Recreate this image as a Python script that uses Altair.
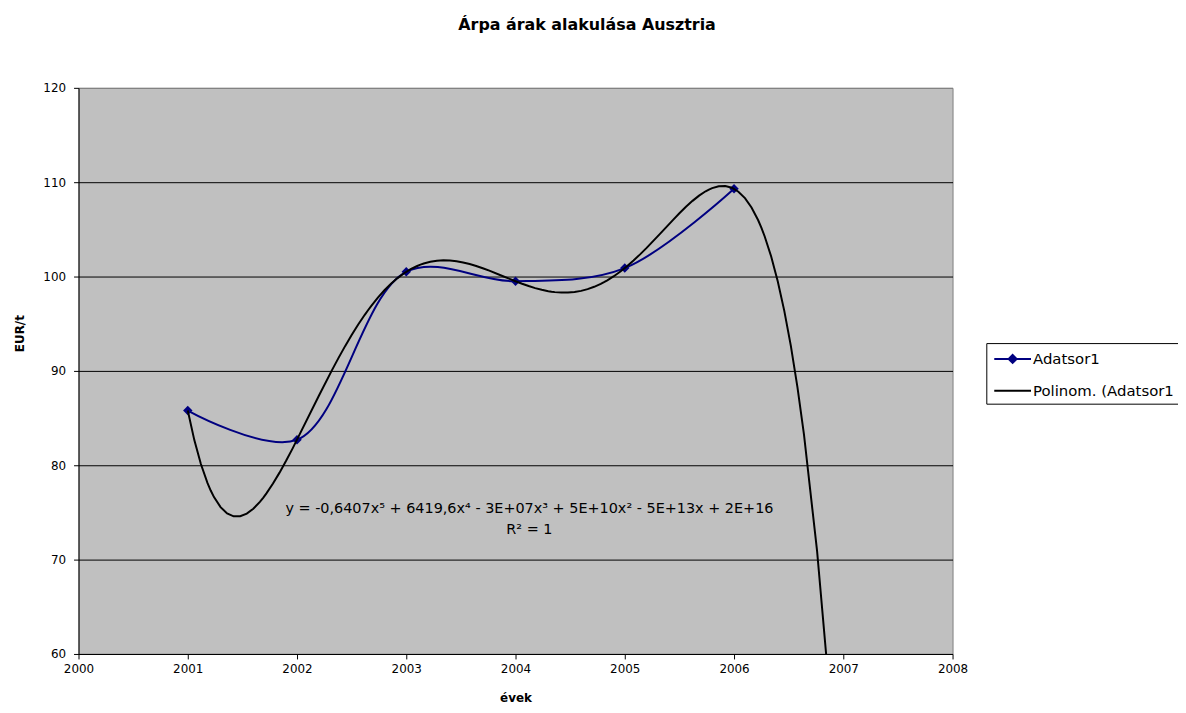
import altair as alt
import pandas as pd

# ---- data ----
years = [2001, 2002, 2003, 2004, 2005, 2006]
prices = [85.8, 82.7, 100.5, 99.5, 100.9, 109.3]
series_names = ["Adatsor1", "Polinom. (Adatsor1"]
series_colors = ["#000080", "#000000"]
x_ticks = [2000, 2001, 2002, 2003, 2004, 2005, 2006, 2007, 2008]
y_ticks = [60, 70, 80, 90, 100, 110, 120]
trend_extent = [2001, 2007]
equation_lines = [
    "y = -0,6407x\u2075 + 6419,6x\u2074 - 3E+07x\u00b3 + 5E+10x\u00b2 - 5E+13x + 2E+16",
    "R\u00b2 = 1",
]
title_text = "\u00c1rpa \u00e1rak alakul\u00e1sa Ausztria"
x_title = "\u00e9vek"
y_title = "EUR/t"

df = pd.DataFrame({"year": years, "value": prices, "series": series_names[0]})

FONT = "DejaVu Sans"
W, H = 880, 570

x_enc = alt.X(
    "year:Q",
    scale=alt.Scale(domain=[2000, 2008], nice=False, zero=False),
    axis=alt.Axis(
        values=x_ticks, format="d", title=x_title, grid=False, labelFlush=False,
        domainColor="black", tickColor="black", tickSize=5,
        labelFont=FONT, labelFontSize=12, labelColor="black", labelPadding=5,
        titleFont=FONT, titleFontSize=12, titleFontWeight="bold", titleColor="black",
        titleBaseline="middle", titleY=44,
    ),
)
y_enc = alt.Y(
    "value:Q",
    scale=alt.Scale(domain=[60, 120], nice=False, zero=False),
    axis=alt.Axis(
        values=y_ticks, title=y_title, grid=True, labelFlush=False,
        gridColor={"condition": {"test": "datum.value >= 120", "value": "#808080"}, "value": "black"},
        gridWidth=1,
        domainColor="black", tickColor="black", tickSize=5,
        labelFont=FONT, labelFontSize=12, labelColor="black", labelPadding=8,
        titleFont=FONT, titleFontSize=12, titleFontWeight="bold", titleColor="black",
        titleBaseline="middle", titleX=-59, titleY=247, titleAngle=-90,
    ),
)

base = alt.Chart(df)

data_line = base.mark_line(
    interpolate="catmull-rom", color="#000080", strokeWidth=2
).encode(x=x_enc, y=y_enc)

data_points = base.mark_point(
    shape="diamond", filled=True, size=90, color="#000080", opacity=1
).encode(x=x_enc, y=y_enc)

trend = base.transform_regression(
    "year", "value", method="poly", order=5, extent=trend_extent
).mark_line(color="black", strokeWidth=2, clip=True).encode(x=x_enc, y=y_enc)

legend = alt.Legend(
    title=None, orient="none", legendX=914, legendY=257,
    labelFont=FONT, labelFontSize=15, labelColor="black",
    labelOffset=9.5, labelLimit=400,
    symbolSize=400, symbolOffset=10.5, symbolStrokeWidth=2, symbolOpacity=1,
    padding=5, rowPadding=13, strokeColor="black", fillColor="white", cornerRadius=0,
)
shape_paths = [
    "M-1.85,0H1.85M0,-0.4L0.4,0L0,0.4L-0.4,0Z",
    "M-1.85,0H1.85",
]
legend_layer = base.transform_filter("datum.value < 0").mark_point(
    filled=True, strokeWidth=2, opacity=1
).encode(
    x=x_enc,
    y=y_enc,
    color=alt.Color("series:N", scale=alt.Scale(domain=series_names, range=series_colors), legend=legend),
    stroke=alt.Stroke("series:N", scale=alt.Scale(domain=series_names, range=series_colors), legend=legend),
    shape=alt.Shape("series:N", scale=alt.Scale(domain=series_names, range=shape_paths), legend=legend),
)

equation = alt.Chart(pd.DataFrame({"t": [0]})).mark_text(
    text=equation_lines, font=FONT, fontSize=14.5, color="black",
    align="center", baseline="top", lineHeight=21,
).encode(x=alt.value(454), y=alt.value(417))

chart = alt.layer(data_line, data_points, trend, legend_layer, equation).properties(
    width=W, height=H,
    title=alt.Title(
        title_text, font=FONT, fontSize=16, fontWeight="bold", color="black",
        anchor="middle", frame="group", dx=72, offset=49,
    ),
    autosize=alt.AutoSizeParams(type="none"),
    padding={"left": 71, "top": 78, "right": 227, "bottom": 49},
    background="white",
).configure_view(
    fill="#C0C0C0", stroke="#808080", strokeWidth=1
)

chart.save("out.html", embed_options={"renderer": "svg", "actions": False})
